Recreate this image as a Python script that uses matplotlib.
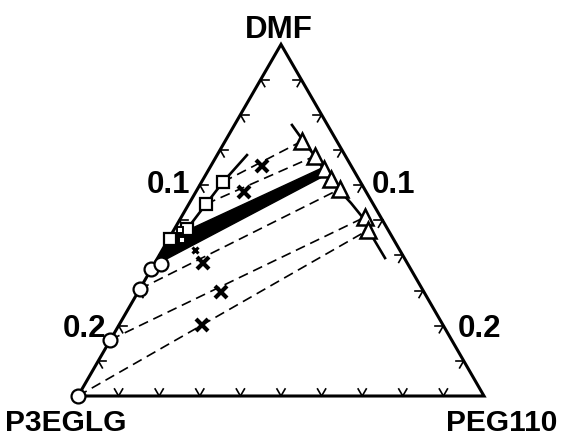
import numpy as np
import matplotlib
matplotlib.use("Agg")
import matplotlib.pyplot as plt

# ---- data: mass fractions (P3EGLG, PEG110); DMF = 1 - both; plotted corner spans 0..0.25
SPAN = 0.25

square_p3 = [0.0846, 0.1029, 0.1235, 0.1375]
square_peg = [0.0132, 0.0106, 0.0078, 0.0008]
small_square_p3 = [0.1305, 0.1282]
small_square_peg = [0.0086, 0.0038]
sqline_p3 = [0.0603, 0.0846, 0.1029, 0.1235, 0.1375]
sqline_peg = [0.0184, 0.0132, 0.0106, 0.0078, 0.0008]

tri_p3 = [0.0214, 0.0188, 0.0178, 0.0171, 0.0151, 0.0097, 0.0124]
tri_peg = [0.0473, 0.0606, 0.0708, 0.0786, 0.0877, 0.1131, 0.1196]
triline_p3 = [0.0219, 0.0207, 0.0190, 0.0181, 0.0173, 0.0163, 0.0133, 0.0110, 0.0122, 0.0119]
triline_peg = [0.0354, 0.0466, 0.0597, 0.0698, 0.0777, 0.0865, 0.0995, 0.1132, 0.1205, 0.1400]

circ_p3 = [0.250, 0.210, 0.174, 0.160, 0.152]
circ_peg = [0.0, 0.0, 0.0, 0.0, 0.0042]

cross_p3 = [0.0549, 0.0753, 0.1258, 0.1250, 0.1484]
cross_peg = [0.0315, 0.0297, 0.0297, 0.0511, 0.0511]
small_cross_p3 = [0.1261]
small_cross_peg = [0.0202]

# tie lines: (p3 start, peg start, p3 end, peg end)
tie_p3_a = [0.0846, 0.1029, 0.174, 0.210, 0.250]
tie_peg_a = [0.0132, 0.0106, 0.0, 0.0, 0.0]
tie_p3_b = [0.0214, 0.0188, 0.0151, 0.0097, 0.0124]
tie_peg_b = [0.0473, 0.0606, 0.0877, 0.1131, 0.1196]

wedge_p3 = [0.156, 0.1384, 0.0171, 0.0187]
wedge_peg = [0.0009, 0.0, 0.0701, 0.0741]

tick_fracs = [i / 10 for i in range(1, 10)]
label_values = ["0.1", "0.2"]

S3 = np.sqrt(3) / 2


def tern(p3, peg):
    a = np.asarray(p3, float) / SPAN
    b = np.asarray(peg, float) / SPAN
    x = 0.5 - 0.5 * a + 0.5 * b
    y = S3 * (1 - a - b)
    return x, y


W, H = 567, 437
fig = plt.figure(figsize=(W / 100, H / 100), dpi=100)
ax = fig.add_axes([0, 0, 1, 1])
ax.set_xlim(-78 / 406, (W - 78) / 406)
ax.set_ylim(-(H - 396) / 406, 396 / 406)
ax.axis("off")

# triangle frame
Lv, Rv, Tv = np.array([0, 0]), np.array([1, 0]), np.array([0.5, S3])
frame = np.array([Lv, Rv, Tv, Lv])
ax.plot(frame[:, 0], frame[:, 1], color="black", lw=2.2, zorder=3, solid_joinstyle="miter")

# ticks: stubs parallel to the other two sides
tl = 0.02
sides = [(Lv, Rv), (Tv, Lv), (Rv, Tv)]
dirs = {
    0: [np.array([0.5, S3]), np.array([-0.5, S3])],
    1: [np.array([1.0, 0.0]), np.array([0.5, -S3])],
    2: [np.array([-1.0, 0.0]), np.array([-0.5, -S3])],
}
for k, (p0, p1) in enumerate(sides):
    for f in tick_fracs:
        p = p0 + f * (p1 - p0)
        for d in dirs[k]:
            q = p + tl * d
            ax.plot([p[0], q[0]], [p[1], q[1]], color="black", lw=1.2, zorder=3)

# tie lines
for i in range(len(tie_p3_a)):
    x, y = tern([tie_p3_a[i], tie_p3_b[i]], [tie_peg_a[i], tie_peg_b[i]])
    ax.plot(x, y, color="black", lw=1.2, ls=(0, (6, 3.5)), zorder=2)

# black wedge
wx, wy = tern(wedge_p3, wedge_peg)
ax.fill(wx, wy, color="black", lw=1.0, zorder=4)

# binodal curves
x, y = tern(sqline_p3, sqline_peg)
ax.plot(x, y, color="black", lw=1.9, zorder=4)
x, y = tern(triline_p3, triline_peg)
ax.plot(x, y, color="black", lw=1.9, zorder=4)

# markers
x, y = tern(circ_p3, circ_peg)
ax.plot(x, y, "o", ms=10, mfc="white", mec="black", mew=1.6, zorder=6, clip_on=False)
x, y = tern(square_p3, square_peg)
ax.plot(x, y, "s", ms=8.5, mfc="white", mec="black", mew=1.6, zorder=6)
x, y = tern(small_square_p3, small_square_peg)
ax.plot(x, y, "s", ms=5, mfc="white", mec="black", mew=1.4, zorder=6)
x, y = tern(tri_p3, tri_peg)
ax.plot(x, y, "^", ms=11, mfc="white", mec="black", mew=1.8, zorder=6)
x, y = tern(cross_p3, cross_peg)
ax.plot(x, y, "x", ms=8, mec="black", mew=3.0, zorder=6)
x, y = tern(small_cross_p3, small_cross_peg)
ax.plot(x, y, "x", ms=4.5, mec="black", mew=2.2, zorder=6)

# text
font = dict(family="Liberation Sans", weight="bold", size=22.5, color="black")
corner = dict(font, size=21.5)
ax.text(0.4951, 0.8818, "DMF", ha="center", va="baseline", **font)
ax.text(-0.0300, -0.086, "P3EGLG", ha="center", va="baseline", **corner)
ax.text(1.043, -0.086, "PEG110", ha="center", va="baseline", **corner)
ax.text(0.2229, 0.500, label_values[0], ha="center", va="baseline", **font)
ax.text(0.0172, 0.1453, label_values[1], ha="center", va="baseline", **font)
ax.text(0.7771, 0.500, label_values[0], ha="center", va="baseline", **font)
ax.text(0.9889, 0.1453, label_values[1], ha="center", va="baseline", **font)

fig.savefig("out.png", dpi=100)
